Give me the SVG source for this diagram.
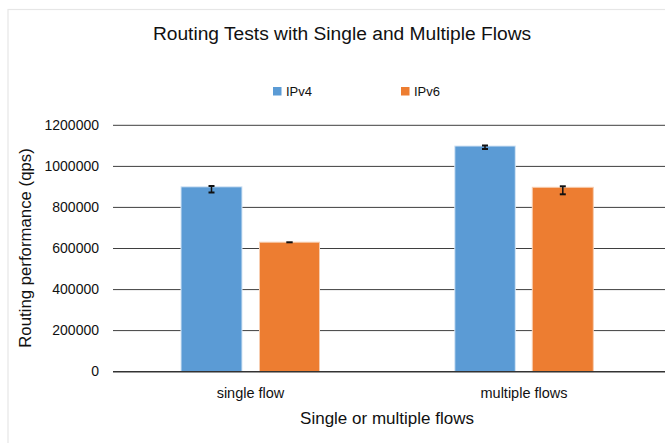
<svg xmlns="http://www.w3.org/2000/svg" width="665" height="443" viewBox="0 0 665 443">
  <style>
    text { font-family: "Liberation Sans", Arial, sans-serif; fill: #111111; }
    .grid { stroke: #3f3f3f; stroke-width: 1; }
    .axis { stroke: #333333; stroke-width: 1.6; }
    .ipv4 { fill: #5B9BD5; stroke: #d6e6f5; stroke-width: 1; }
    .ipv6 { fill: #ED7D31; stroke: #f7cdb0; stroke-width: 1; }
    .err { stroke: #111111; stroke-width: 1.5; fill: none; }
    .cap { stroke: #111111; stroke-width: 2; fill: none; }
    .tick { font-size: 14px; text-anchor: end; }
    .cat { font-size: 14.5px; text-anchor: middle; }
  </style>
  <rect x="0" y="0" width="665" height="443" fill="#ffffff"/>
  <rect id="frame" x="8" y="9.5" width="680" height="460" fill="#ffffff" stroke="#e6e6e6" stroke-width="1.2"/>

  <text id="title" x="342" y="39.5" font-size="19.2" text-anchor="middle">Routing Tests with Single and Multiple Flows</text>

  <g id="legend">
    <rect x="273" y="87" width="8.5" height="8.5" fill="#5B9BD5"/>
    <text x="286" y="96" font-size="13">IPv4</text>
    <rect x="401" y="87" width="8.5" height="8.5" fill="#ED7D31"/>
    <text x="414" y="96" font-size="13">IPv6</text>
  </g>

  <g id="gridlines">
    <line class="grid" x1="113" y1="125.3" x2="665" y2="125.3"/>
    <line class="grid" x1="113" y1="166.4" x2="665" y2="166.4"/>
    <line class="grid" x1="113" y1="207.4" x2="665" y2="207.4"/>
    <line class="grid" x1="113" y1="248.5" x2="665" y2="248.5"/>
    <line class="grid" x1="113" y1="289.6" x2="665" y2="289.6"/>
    <line class="grid" x1="113" y1="330.6" x2="665" y2="330.6"/>
  </g>

  <g id="y-axis-labels">
    <text class="tick" x="99" y="130">1200000</text>
    <text class="tick" x="99" y="171.1">1000000</text>
    <text class="tick" x="99" y="212.1">800000</text>
    <text class="tick" x="99" y="253.2">600000</text>
    <text class="tick" x="99" y="294.3">400000</text>
    <text class="tick" x="99" y="335.3">200000</text>
    <text class="tick" x="99" y="376.4">0</text>
  </g>

  <text id="y-title" transform="translate(30.5,248) rotate(-90)" font-size="16.8" text-anchor="middle">Routing performance (qps)</text>

  <g id="bars">
    <rect id="bar-single-ipv4" class="ipv4" x="181" y="186.8" width="61" height="184.9"/>
    <rect id="bar-single-ipv6" class="ipv6" x="259.5" y="242.2" width="60" height="129.5"/>
    <rect id="bar-multi-ipv4" class="ipv4" x="454.8" y="146" width="60.5" height="225.7"/>
    <rect id="bar-multi-ipv6" class="ipv6" x="532.3" y="187.3" width="61" height="184.4"/>
  </g>

  <line id="x-axis" class="axis" x1="113" y1="371.7" x2="665" y2="371.7"/>

  <g id="error-bars">
    <line class="err" x1="211.5" y1="186" x2="211.5" y2="192.5"/>
    <line class="cap" x1="208.5" y1="186" x2="214.5" y2="186"/>
    <line class="cap" x1="208.5" y1="192.5" x2="214.5" y2="192.5"/>

    <line class="cap" x1="286.3" y1="242.3" x2="292.7" y2="242.3"/>

    <line class="err" x1="485" y1="145.5" x2="485" y2="149"/>
    <line class="cap" x1="482" y1="145.5" x2="488" y2="145.5"/>
    <line class="cap" x1="482" y1="149" x2="488" y2="149"/>

    <line class="err" x1="562.8" y1="186.3" x2="562.8" y2="194.3"/>
    <line class="cap" x1="559.8" y1="186.3" x2="565.8" y2="186.3"/>
    <line class="cap" x1="559.8" y1="194.3" x2="565.8" y2="194.3"/>
  </g>

  <g id="x-axis-labels">
    <text class="cat" x="250.5" y="397.5">single flow</text>
    <text class="cat" x="524" y="397.5">multiple flows</text>
  </g>

  <text id="x-title" x="387" y="424" font-size="17" text-anchor="middle">Single or multiple flows</text>
</svg>
